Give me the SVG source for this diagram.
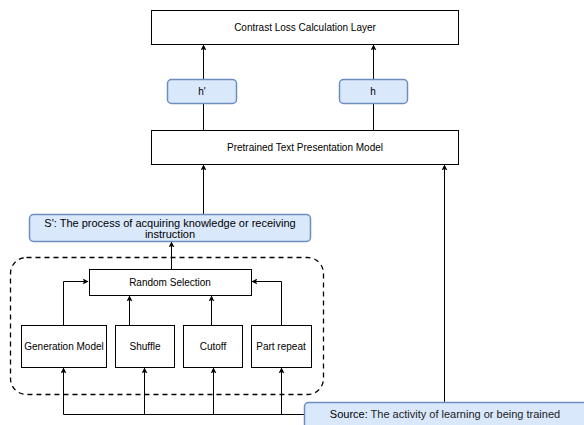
<svg xmlns="http://www.w3.org/2000/svg" width="584" height="425" viewBox="0 0 584 425">
<style>
.box{fill:#fff;stroke:#000;stroke-width:1}
.blue{fill:#dae8fc;stroke:#6c8ebf;stroke-width:1.5}
.t{font-family:"Liberation Sans",Arial,sans-serif;font-size:10px;fill:#000;text-anchor:middle}
.t11{font-size:11px}
.c{fill:none;stroke:#000;stroke-width:1}
</style>
<defs>
<marker id="ah" viewBox="0 0 10 10" refX="9" refY="5" markerWidth="6" markerHeight="6" orient="auto" markerUnits="userSpaceOnUse">
<path d="M0,0 L10,5 L0,10 L2.5,5 z" fill="#000"/>
</marker>
</defs>
<rect x="0" y="0" width="584" height="425" fill="#fff"/>
<g id="group-dashed">
<rect x="10.5" y="257.5" width="313" height="137" rx="16" ry="16" fill="none" stroke="#000" stroke-width="1.3" stroke-dasharray="5,4"/>
</g>
<g id="connectors">
<path class="c" d="M203.5,79 V45" marker-end="url(#ah)"/>
<path class="c" d="M373.5,79 V45" marker-end="url(#ah)"/>
<path class="c" d="M203.5,130 V103"/>
<path class="c" d="M373.5,130 V103"/>
<path class="c" d="M203.5,214 V165" marker-end="url(#ah)"/>
<path class="c" d="M444.5,402 V165" marker-end="url(#ah)"/>
<path class="c" d="M171.5,269 V242" marker-end="url(#ah)"/>
<path class="c" d="M63.5,325 V281.5 H88" marker-end="url(#ah)"/>
<path class="c" d="M129.5,325 V296" marker-end="url(#ah)"/>
<path class="c" d="M211.5,325 V296" marker-end="url(#ah)"/>
<path class="c" d="M281.5,325 V281.5 H252" marker-end="url(#ah)"/>
<path class="c" d="M304,414.5 H63.5 V368" marker-end="url(#ah)"/>
<path class="c" d="M144.5,414.5 V368" marker-end="url(#ah)"/>
<path class="c" d="M213.5,414.5 V368" marker-end="url(#ah)"/>
<path class="c" d="M281.5,414.5 V368" marker-end="url(#ah)"/>
</g>
<g id="contrast">
<rect class="box" x="151.5" y="10.5" width="307" height="34"/>
<text class="t" x="305" y="31">Contrast Loss Calculation Layer</text>
</g>
<g id="hprime">
<rect class="blue" x="167.5" y="79.5" width="69" height="24" rx="4" ry="4"/>
<text class="t" x="202" y="95">h'</text>
</g>
<g id="h">
<rect class="blue" x="339.5" y="79.5" width="68" height="24" rx="4" ry="4"/>
<text class="t" x="373" y="95">h</text>
</g>
<g id="pretrained">
<rect class="box" x="151.5" y="130.5" width="307" height="34"/>
<text class="t" x="305" y="151">Pretrained Text Presentation Model</text>
</g>
<g id="sprime">
<rect class="blue" x="29.5" y="214.5" width="281" height="27" rx="4" ry="4"/>
<text class="t t11" x="170" y="227">S': The process of acquiring knowledge or receiving</text>
<text class="t t11" x="170" y="238">instruction</text>
</g>
<g id="random">
<rect class="box" x="89.5" y="269.5" width="162" height="26"/>
<text class="t" x="170" y="286">Random Selection</text>
</g>
<g id="genmodel">
<rect class="box" x="21.5" y="325.5" width="85" height="42"/>
<text class="t" x="64" y="350">Generation Model</text>
</g>
<g id="shuffle">
<rect class="box" x="115.5" y="325.5" width="59" height="42"/>
<text class="t" x="145" y="350">Shuffle</text>
</g>
<g id="cutoff">
<rect class="box" x="183.5" y="325.5" width="59" height="42"/>
<text class="t" x="213" y="350">Cutoff</text>
</g>
<g id="partrepeat">
<rect class="box" x="251.5" y="325.5" width="60" height="42"/>
<text class="t" x="281" y="350">Part repeat</text>
</g>
<g id="source">
<rect class="blue" x="304.5" y="402.5" width="290" height="30" rx="4" ry="4"/>
<text class="t t11" x="445" y="418"><tspan fill="#000">Source:</tspan><tspan fill="#222"> The activity of learning or being trained</tspan></text>
</g>
</svg>
